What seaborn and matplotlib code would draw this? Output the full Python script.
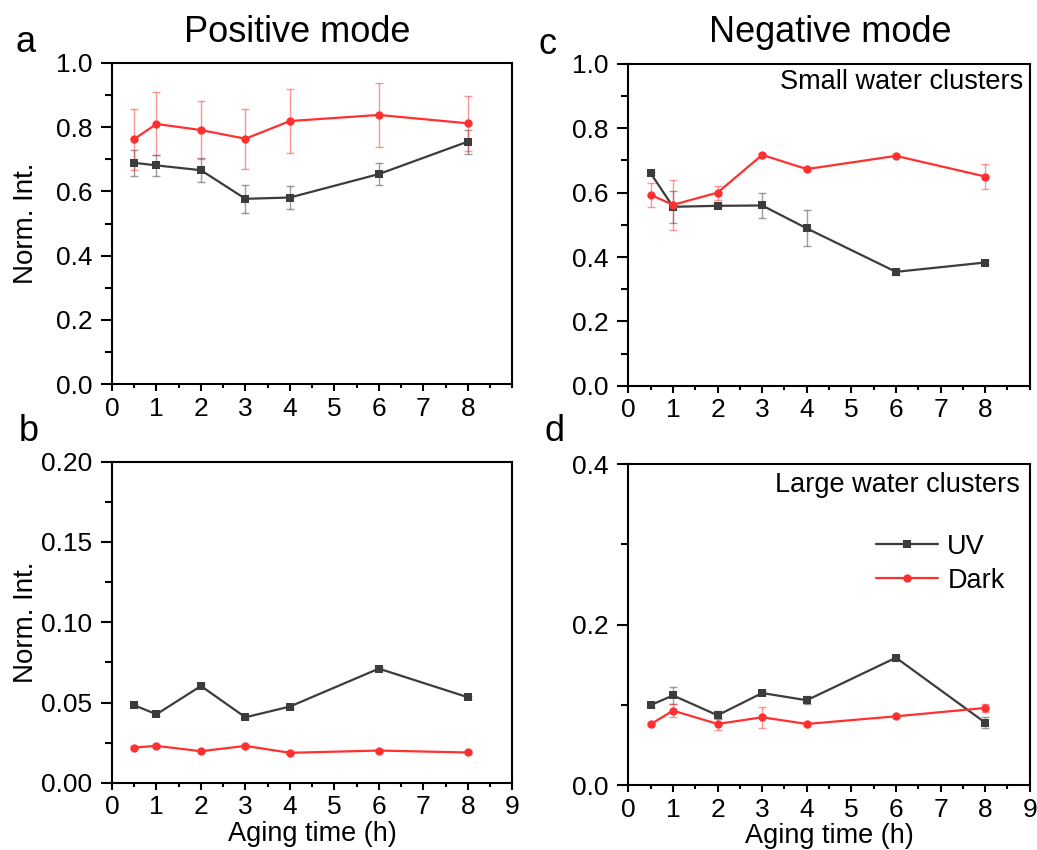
import numpy as np
import pandas as pd
import seaborn as sns
import matplotlib.pyplot as plt
from matplotlib.ticker import MultipleLocator

sns.set_style('ticks')
plt.rcParams['font.family'] = ['Liberation Sans', 'DejaVu Sans']
plt.rcParams['text.color'] = 'black'
plt.rcParams['axes.labelcolor'] = 'black'
plt.rcParams['xtick.color'] = 'black'
plt.rcParams['ytick.color'] = 'black'
plt.rcParams['axes.edgecolor'] = 'black'

times = [0.5, 1, 2, 3, 4, 6, 8]
conds = ['UV', 'Dark']
colors = {'UV': '#3c3c3c', 'Dark': '#ff3030'}

# panel a, positive mode
pos_uv = [0.689, 0.681, 0.666, 0.577, 0.581, 0.654, 0.755]
pos_uv_err = [0.040, 0.033, 0.037, 0.044, 0.036, 0.035, 0.037]
pos_dark = [0.763, 0.810, 0.791, 0.764, 0.819, 0.838, 0.812]
pos_dark_err = [0.095, 0.098, 0.090, 0.094, 0.100, 0.100, 0.086]

# panel b, positive mode (low)
pos2_uv = [0.0483, 0.0427, 0.0603, 0.0408, 0.0475, 0.0711, 0.0533]
pos2_uv_err = [0.001, 0.001, 0.001, 0.001, 0.001, 0.001, 0.001]
pos2_dark = [0.0220, 0.0230, 0.0197, 0.0230, 0.0187, 0.0201, 0.0189]
pos2_dark_err = [0.001, 0.001, 0.001, 0.001, 0.001, 0.001, 0.001]

# panel c, small water clusters
small_uv = [0.660, 0.556, 0.559, 0.560, 0.489, 0.354, 0.383]
small_uv_err = [0.005, 0.050, 0.005, 0.039, 0.056, 0.010, 0.005]
small_dark = [0.593, 0.562, 0.600, 0.717, 0.673, 0.714, 0.650]
small_dark_err = [0.038, 0.078, 0.022, 0.005, 0.005, 0.005, 0.040]

# panel d, large water clusters
large_uv = [0.100, 0.112, 0.0873, 0.115, 0.106, 0.159, 0.0782]
large_uv_err = [0.003, 0.011, 0.005, 0.003, 0.005, 0.002, 0.007]
large_dark = [0.0761, 0.0931, 0.0765, 0.0848, 0.0765, 0.086, 0.0964]
large_dark_err = [0.002, 0.008, 0.008, 0.013, 0.002, 0.002, 0.005]


def make_df(uv, uv_err, dark, dark_err):
    rows = []
    for i, t in enumerate(times):
        rows.append({'time': t, 'val': uv[i], 'err': uv_err[i], 'cond': 'UV'})
        rows.append({'time': t, 'val': dark[i], 'err': dark_err[i], 'cond': 'Dark'})
    return pd.DataFrame(rows)


def draw(ax, df, ymax, ymaj, ymin, xticks, legend=False):
    for c in conds:
        sub = df[df['cond'] == c]
        ax.errorbar(sub['time'], sub['val'], yerr=sub['err'], fmt='none',
                    ecolor=colors[c], alpha=0.5, elinewidth=1, capsize=3,
                    capthick=1, zorder=1)
    sns.lineplot(data=df, x='time', y='val', hue='cond', style='cond',
                 hue_order=conds, style_order=conds, palette=colors,
                 markers={'UV': 's', 'Dark': 'o'}, dashes=False,
                 markersize=6, markeredgewidth=0, linewidth=1.6,
                 legend=legend, ax=ax, zorder=3)
    ax.set_xlim(0, 9)
    ax.set_ylim(0, ymax)
    ax.set_xticks(xticks)
    ax.xaxis.set_minor_locator(MultipleLocator(0.5))
    ax.yaxis.set_major_locator(MultipleLocator(ymaj))
    ax.yaxis.set_minor_locator(MultipleLocator(ymin))
    ax.tick_params(axis='x', which='major', length=5, width=1.5, labelsize=19, pad=4)
    ax.tick_params(axis='x', which='minor', length=3, width=1.5)
    ax.tick_params(axis='y', which='major', length=8, width=1.5, labelsize=19, pad=6)
    ax.tick_params(axis='y', which='minor', length=5, width=1.5)
    for s in ax.spines.values():
        s.set_linewidth(1.5)
    ax.set_xlabel('')
    ax.set_ylabel('')


fig = plt.figure(figsize=(10.37, 8.5), dpi=100)
ax_a = fig.add_axes([0.108, 0.548, 0.386, 0.378])
ax_c = fig.add_axes([0.606, 0.546, 0.387, 0.379])
ax_b = fig.add_axes([0.108, 0.079, 0.386, 0.378])
ax_d = fig.add_axes([0.606, 0.076, 0.387, 0.378])

draw(ax_a, make_df(pos_uv, pos_uv_err, pos_dark, pos_dark_err), 1.0, 0.2, 0.1, range(0, 9))
draw(ax_b, make_df(pos2_uv, pos2_uv_err, pos2_dark, pos2_dark_err), 0.20, 0.05, 0.025, range(0, 10))
draw(ax_c, make_df(small_uv, small_uv_err, small_dark, small_dark_err), 1.0, 0.2, 0.1, range(0, 9))
draw(ax_d, make_df(large_uv, large_uv_err, large_dark, large_dark_err), 0.4, 0.2, 0.1, range(0, 10), legend=True)

ax_b.yaxis.set_major_formatter(plt.FormatStrFormatter('%.2f'))
ax_a.yaxis.set_major_formatter(plt.FormatStrFormatter('%.1f'))
ax_c.yaxis.set_major_formatter(plt.FormatStrFormatter('%.1f'))
ax_d.yaxis.set_major_formatter(plt.FormatStrFormatter('%.1f'))

ax_a.set_ylabel('Norm. Int.', fontsize=20, labelpad=12)
ax_b.set_ylabel('Norm. Int.', fontsize=20, labelpad=2)
ax_b.set_xlabel('Aging time (h)', fontsize=19.5, labelpad=1)
ax_d.set_xlabel('Aging time (h)', fontsize=19.5, labelpad=1)

ax_c.text(0.983, 0.944, 'Small water clusters', transform=ax_c.transAxes,
          ha='right', va='center', fontsize=19.5)
ax_d.text(0.975, 0.935, 'Large water clusters', transform=ax_d.transAxes,
          ha='right', va='center', fontsize=19.5)

leg = ax_d.legend(loc='center left', bbox_to_anchor=(0.555, 0.69), frameon=False,
                  fontsize=19.5, handlelength=2.3, handletextpad=0.35, labelspacing=0.3)

fig.text(297 / 1037, 1 - 32 / 850, 'Positive mode', ha='center', va='center', fontsize=26)
fig.text(830 / 1037, 1 - 32 / 850, 'Negative mode', ha='center', va='center', fontsize=26)
for lbl, x, y in [('a', 26, 43), ('c', 547, 45), ('b', 29, 432), ('d', 555, 432)]:
    fig.text(x / 1037, 1 - y / 850, lbl, ha='center', va='center', fontsize=26)

fig.savefig('out.png', dpi=100, facecolor='white')
